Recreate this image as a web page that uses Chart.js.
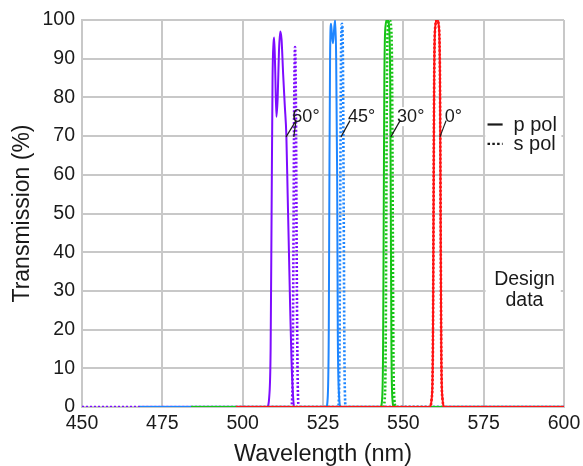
<!DOCTYPE html>
<html><head><meta charset="utf-8">
<script src="https://cdn.jsdelivr.net/npm/chart.js@4.4.1/dist/chart.umd.min.js"></script>
<style>html,body{margin:0;padding:0;background:#fff;}#wrap{width:583px;height:466px;position:relative;}</style>
</head><body><div id="wrap"><canvas id="c" width="583" height="466"></canvas></div>
<script>
// ---- data ----
const xTickValues = [450, 475, 500, 525, 550, 575, 600];
const yTickValues = [0, 10, 20, 30, 40, 50, 60, 70, 80, 90, 100];
const angleLabels = ['60°', '45°', '30°', '0°'];
const legendLabels = ['p pol', 's pol'];
const noteLines = ['Design', 'data'];
const xTitle = 'Wavelength (nm)';
const yTitle = 'Transmission (%)';

const red_p_wl = [498, 558.2, 558.8, 559.2, 559.4, 559.6, 559.9, 560.5, 561.1, 561.4, 561.6, 561.8, 562.2, 562.8, 600];
const red_p_T  = [0, 0, 2, 15, 50, 85, 98, 100, 98, 85, 50, 15, 2, 0, 0];
const red_s_wl = [498, 558.2, 558.8, 559.2, 559.4, 559.6, 559.9, 560.5, 561.1, 561.4, 561.6, 561.8, 562.2, 562.8, 600];
const red_s_T  = [0, 0, 2, 15, 50, 85, 98, 100, 98, 85, 50, 15, 2, 0, 0];

const green_p_wl = [484, 542.9, 543.4, 543.7, 543.9, 544.1, 544.4, 545.0, 545.6, 545.9, 546.1, 546.3, 546.6, 547.1, 600];
const green_p_T  = [0, 0, 2, 15, 50, 85, 98, 100, 98, 85, 50, 15, 2, 0, 0];
const green_s_wl = [484, 543.7, 544.2, 544.5, 544.7, 544.9, 545.2, 545.7, 546.2, 546.5, 546.7, 546.9, 547.2, 547.7, 600];
const green_s_T  = [0, 0, 2, 15, 50, 85, 98, 100, 98, 85, 50, 15, 2, 0, 0];

const blue_p_wl = [468, 526.0, 526.5, 526.8, 527.0, 527.2, 527.5, 527.8, 528.1, 528.5, 528.8, 529.1, 529.4, 529.6, 530.0, 530.5, 600];
const blue_p_T  = [0, 0, 3, 20, 60, 90, 99, 96, 94, 98, 100, 90, 60, 20, 3, 0, 0];
const blue_s_wl = [468, 529.7, 530.1, 530.35, 530.6, 530.9, 531.2, 531.45, 531.7, 532.1, 600];
const blue_s_T  = [0, 0, 10, 50, 90, 99, 90, 50, 10, 0, 0];

const purple_p_wl = [468, 507.6, 508.3, 508.7, 509.0, 509.3, 509.6, 509.8, 510.1, 510.5, 510.9, 511.3, 511.7, 512.1, 512.6, 513.1, 513.6, 514.0, 514.4, 514.8, 515.2, 515.6, 516.0, 600];
const purple_p_T  = [0, 0, 3, 15, 50, 85, 94, 95.5, 88, 75, 80, 92, 97, 95, 86, 78, 70, 55, 40, 25, 12, 4, 0, 0];
const purple_s_wl = [450, 515.1, 515.5, 515.8, 516.05, 516.3, 516.55, 516.8, 517.1, 517.5, 600];
const purple_s_T  = [0, 0, 5, 40, 80, 93, 80, 40, 8, 0, 0];

// ---- styles & layout ----
const FONT = '"Liberation Sans", Arial, Helvetica, sans-serif';
const TEXT = '#1a1a1a';
const GRID = '#c8c8c8';
const COL = { red: '#ff1414', green: '#16c416', blue: '#1e86ff', purple: '#7d0cff' };

const ANNOT = {
  labelY: 73.6,
  labelX: [519.7, 537.0, 552.3, 565.6],
  leaders: [[516.6, 74.0, 513.5, 69.8], [516.6, 74.0, 515.9, 69.8], [533.4, 74.0, 530.6, 69.8], [549.0, 74.0, 546.1, 69.8], [563.3, 74.0, 561.4, 69.8]],
  legendBox: [575.5, 79.2, 599.2, 62.5],
  legendLineX: [576.2, 580.9], legendTextX: 584.3,
  legendLineY: [73.0, 68.0], legendTextY: [71.3, 66.4],
  noteBox: [575.6, 36.2, 599.0, 24.5],
  noteX: 587.7, noteY: [31.5, 26.1]
};

function mk(wl, T) { return wl.map((w, i) => ({ x: w, y: T[i] })); }
function ds(wl, T, color, dotted) {
  return {
    data: mk(wl, T), borderColor: color, backgroundColor: color,
    borderWidth: dotted ? 2.6 : 2, borderDash: dotted ? [2, 2] : [],
    pointRadius: 0, fill: false, cubicInterpolationMode: 'monotone'
  };
}

const datasets = [
  ds(red_p_wl, red_p_T, COL.red, false),
  ds(red_s_wl, red_s_T, COL.red, true),
  ds(green_p_wl, green_p_T, COL.green, false),
  ds(green_s_wl, green_s_T, COL.green, true),
  ds(blue_p_wl, blue_p_T, COL.blue, false),
  ds(blue_s_wl, blue_s_T, COL.blue, true),
  ds(purple_s_wl, purple_s_T, COL.purple, true),
  ds(purple_p_wl, purple_p_T, COL.purple, false)
];

const overlay = {
  id: 'overlay',
  beforeDatasetsDraw(chart) {
    const ctx = chart.ctx, xs = chart.scales.x, ys = chart.scales.y;
    const X = v => xs.getPixelForValue(v), Y = v => ys.getPixelForValue(v);
    ctx.save();
    ctx.fillStyle = '#fff';
    ctx.font = '18px ' + FONT;
    angleLabels.forEach((t, i) => {
      const w = ctx.measureText(t).width;
      ctx.fillRect(X(ANNOT.labelX[i]) - w / 2 - 2, Y(ANNOT.labelY) - 15, w + 4, 19);
    });
    const lb = ANNOT.legendBox, nb = ANNOT.noteBox;
    ctx.fillRect(X(lb[0]), Y(lb[1]), X(lb[2]) - X(lb[0]), Y(lb[3]) - Y(lb[1]));
    ctx.fillRect(X(nb[0]), Y(nb[1]), X(nb[2]) - X(nb[0]), Y(nb[3]) - Y(nb[1]));
    ctx.restore();
  },
  afterDatasetsDraw(chart) {
    const ctx = chart.ctx, xs = chart.scales.x, ys = chart.scales.y;
    const X = v => xs.getPixelForValue(v), Y = v => ys.getPixelForValue(v);
    ctx.save();
    ctx.strokeStyle = TEXT; ctx.lineWidth = 1.2;
    ANNOT.leaders.forEach(l => {
      ctx.beginPath(); ctx.moveTo(X(l[0]), Y(l[1])); ctx.lineTo(X(l[2]), Y(l[3])); ctx.stroke();
    });
    ctx.fillStyle = TEXT; ctx.textAlign = 'center'; ctx.textBaseline = 'alphabetic';
    ctx.font = '18px ' + FONT;
    angleLabels.forEach((t, i) => ctx.fillText(t, X(ANNOT.labelX[i]), Y(ANNOT.labelY)));
    // legend
    ctx.lineWidth = 2.2;
    ctx.beginPath(); ctx.moveTo(X(ANNOT.legendLineX[0]), Y(ANNOT.legendLineY[0])); ctx.lineTo(X(ANNOT.legendLineX[1]), Y(ANNOT.legendLineY[0])); ctx.stroke();
    ctx.setLineDash([2.5, 2.3]);
    ctx.beginPath(); ctx.moveTo(X(ANNOT.legendLineX[0]), Y(ANNOT.legendLineY[1])); ctx.lineTo(X(ANNOT.legendLineX[1]), Y(ANNOT.legendLineY[1])); ctx.stroke();
    ctx.setLineDash([]);
    ctx.textAlign = 'left'; ctx.font = '20px ' + FONT;
    legendLabels.forEach((t, i) => ctx.fillText(t, X(ANNOT.legendTextX), Y(ANNOT.legendTextY[i])));
    // note
    ctx.textAlign = 'center'; ctx.font = '19.5px ' + FONT;
    noteLines.forEach((t, i) => ctx.fillText(t, X(ANNOT.noteX), Y(ANNOT.noteY[i])));
    ctx.restore();
  }
};

new Chart(document.getElementById('c'), {
  type: 'line',
  data: { datasets },
  plugins: [overlay],
  options: {
    responsive: false, animation: false, devicePixelRatio: 1,
    layout: { padding: { top: 20, right: 19, left: 0, bottom: 0 } },
    plugins: { legend: { display: false }, tooltip: { enabled: false } },
    scales: {
      x: {
        type: 'linear', min: 450, max: 600,
        afterBuildTicks: s => { s.ticks = xTickValues.map(v => ({ value: v })); },
        afterFit: s => { s.height = 59; s.paddingLeft = 0; s.paddingRight = 0; },
        grid: { color: GRID, lineWidth: 2, drawTicks: false },
        border: { color: GRID, width: 2 },
        ticks: { color: TEXT, font: { family: FONT, size: 19.5 }, padding: 4.5, autoSkip: false, maxRotation: 0 },
        title: { display: true, text: xTitle, color: TEXT, font: { family: FONT, size: 23.5, lineHeight: 1 }, padding: 0 }
      },
      y: {
        min: 0, max: 100,
        afterBuildTicks: s => { s.ticks = yTickValues.map(v => ({ value: v })); },
        afterFit: s => { s.width = 82; s.paddingTop = 0; s.paddingBottom = 0; },
        grid: { color: GRID, lineWidth: 2, drawTicks: false },
        border: { color: GRID, width: 2 },
        ticks: { color: TEXT, font: { family: FONT, size: 19.5 }, padding: 7, autoSkip: false },
        title: { display: true, text: yTitle, color: TEXT, font: { family: FONT, size: 23, lineHeight: 1 }, padding: { top: 11.5, bottom: 0 } }
      }
    }
  }
});
</script></body></html>
